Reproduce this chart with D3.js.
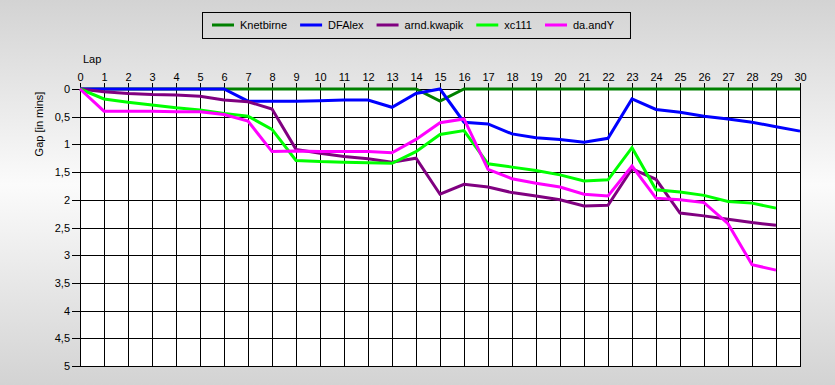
<!DOCTYPE html>
<html>
<head>
<meta charset="utf-8">
<script src="https://cdn.jsdelivr.net/npm/d3@7"></script>
<style>
  html, body { margin: 0; padding: 0; }
  svg { display: block; font-family: "Liberation Sans", Arial, sans-serif; }
</style>
</head>
<body>
<svg id="chart" width="835" height="385"></svg>
<script>
// lap numbers on the top axis
const laps = d3.range(0, 31);
// gap ticks (minutes) on the left axis
const gapTicks = [0, 0.5, 1, 1.5, 2, 2.5, 3, 3.5, 4, 4.5, 5];

// drivers, in legend order
const drivers = ["Knetbirne", "DFAlex", "arnd.kwapik", "xc111", "da.andY"];
const colors = ["#008000", "#0000ff", "#800080", "#00ff00", "#ff00ff"];

// gap to leader per lap (minutes)
const knetbirne = [0, 0, 0, 0, 0, 0, 0, 0, 0, 0, 0, 0, 0, 0, 0, 0.22, 0, 0, 0, 0, 0, 0, 0, 0, 0, 0, 0, 0, 0, 0, 0];
const dfalex = [0, 0, 0, 0, 0, 0, 0, 0.22, 0.22, 0.22, 0.21, 0.2, 0.2, 0.33, 0.08, 0, 0.6, 0.63, 0.81, 0.88, 0.91, 0.96, 0.89, 0.18, 0.37, 0.42, 0.49, 0.54, 0.6, 0.68, 0.76];
const kwapik = [0, 0.05, 0.08, 0.1, 0.11, 0.13, 0.2, 0.23, 0.36, 1.09, 1.16, 1.22, 1.26, 1.32, 1.25, 1.9, 1.72, 1.77, 1.87, 1.93, 2.0, 2.11, 2.1, 1.44, 1.63, 2.24, 2.29, 2.35, 2.41, 2.46];
const xc111 = [0, 0.18, 0.24, 0.29, 0.34, 0.38, 0.44, 0.49, 0.73, 1.29, 1.31, 1.32, 1.33, 1.34, 1.13, 0.82, 0.75, 1.35, 1.41, 1.47, 1.55, 1.66, 1.64, 1.06, 1.82, 1.86, 1.92, 2.03, 2.06, 2.15];
const andy = [0, 0.4, 0.4, 0.4, 0.41, 0.41, 0.46, 0.58, 1.13, 1.12, 1.13, 1.13, 1.13, 1.15, 0.91, 0.61, 0.54, 1.45, 1.62, 1.7, 1.77, 1.9, 1.93, 1.39, 1.97, 2.0, 2.05, 2.43, 3.17, 3.27];

const series = [knetbirne, dfalex, kwapik, xc111, andy];

const svg = d3.select("#chart");
const W = 835, H = 385;
const plot = { left: 80, right: 800, top: 89, bottom: 366 };

// background gradient
const defs = svg.append("defs");
const grad = defs.append("linearGradient")
  .attr("id", "bg").attr("x1", 0).attr("y1", 0).attr("x2", 0).attr("y2", 1);
grad.append("stop").attr("offset", "0%").attr("stop-color", "#d3d3d3");
grad.append("stop").attr("offset", "48%").attr("stop-color", "#fbfbfb");
grad.append("stop").attr("offset", "100%").attr("stop-color", "#d3d3d3");
svg.append("rect").attr("width", W).attr("height", H).attr("fill", "url(#bg)");

const x = d3.scaleLinear().domain([0, 30]).range([plot.left, plot.right]);
const y = d3.scaleLinear().domain([0, 5]).range([plot.top, plot.bottom]);

// plot area
svg.append("rect")
  .attr("x", plot.left).attr("y", plot.top)
  .attr("width", plot.right - plot.left).attr("height", plot.bottom - plot.top)
  .attr("fill", "#fff");

// grid
svg.append("g")
  .attr("transform", "translate(0," + plot.top + ")")
  .call(d3.axisBottom(x).tickValues(laps).tickSize(plot.bottom - plot.top).tickFormat(""))
  .call(g => g.select(".domain").remove())
  .call(g => g.selectAll("line").attr("stroke", "#000").attr("shape-rendering", "crispEdges"));
svg.append("g")
  .attr("transform", "translate(" + plot.left + ",0)")
  .call(d3.axisRight(y).tickValues(gapTicks).tickSize(plot.right - plot.left).tickFormat(""))
  .call(g => g.select(".domain").remove())
  .call(g => g.selectAll("line").attr("stroke", "#000").attr("shape-rendering", "crispEdges"));

// top axis (laps)
svg.append("g")
  .attr("transform", "translate(0," + plot.top + ")")
  .call(d3.axisTop(x).tickValues(laps).tickSize(6).tickSizeOuter(0).tickPadding(2).tickFormat(d3.format("d")))
  .call(g => g.select(".domain").remove())
  .call(g => g.selectAll("line").attr("stroke", "#000").attr("shape-rendering", "crispEdges"))
  .call(g => g.selectAll("text").attr("fill", "#000").style("font-size", "11px")
    .style("font-family", "'Liberation Sans', Arial, sans-serif"));

// left axis (gap)
svg.append("g")
  .attr("transform", "translate(" + plot.left + ",0)")
  .call(d3.axisLeft(y).tickValues(gapTicks).tickSize(8).tickSizeOuter(0).tickPadding(2)
    .tickFormat(d => String(d).replace(".", ",")))
  .call(g => g.select(".domain").remove())
  .call(g => g.selectAll("line").attr("stroke", "#000").attr("shape-rendering", "crispEdges"))
  .call(g => g.selectAll("text").attr("fill", "#000").style("font-size", "11px")
    .style("font-family", "'Liberation Sans', Arial, sans-serif"));

// plot border
svg.append("rect")
  .attr("x", plot.left).attr("y", plot.top)
  .attr("width", plot.right - plot.left).attr("height", plot.bottom - plot.top)
  .attr("fill", "none").attr("stroke", "#000").attr("shape-rendering", "crispEdges");

// axis titles
svg.append("text").attr("x", 83).attr("y", 63).attr("font-size", 11).text("Lap");
svg.append("text")
  .attr("transform", "translate(43,124) rotate(-90)")
  .attr("text-anchor", "middle").attr("font-size", 11)
  .text("Gap [in mins]");

// lines
const line = d3.line().x((d, i) => x(laps[i])).y(d => y(d));
series.forEach((s, k) => {
  svg.append("path")
    .datum(s)
    .attr("d", line)
    .attr("fill", "none")
    .attr("stroke", colors[k])
    .attr("stroke-width", 3);
});

// legend
const legend = svg.append("g");
let lx = 212;
drivers.forEach((name, k) => {
  legend.append("line")
    .attr("x1", lx).attr("x2", lx + 22).attr("y1", 25).attr("y2", 25)
    .attr("stroke", colors[k]).attr("stroke-width", 3);
  const t = legend.append("text")
    .attr("x", lx + 28).attr("y", 29).attr("font-size", 11).text(name);
  lx += 28 + t.node().getComputedTextLength() + 13;
});
legend.insert("rect", ":first-child")
  .attr("x", 202.5).attr("y", 12.5)
  .attr("width", lx - 202 + 3).attr("height", 26)
  .attr("fill", "none").attr("stroke", "#000");
</script>
</body>
</html>
